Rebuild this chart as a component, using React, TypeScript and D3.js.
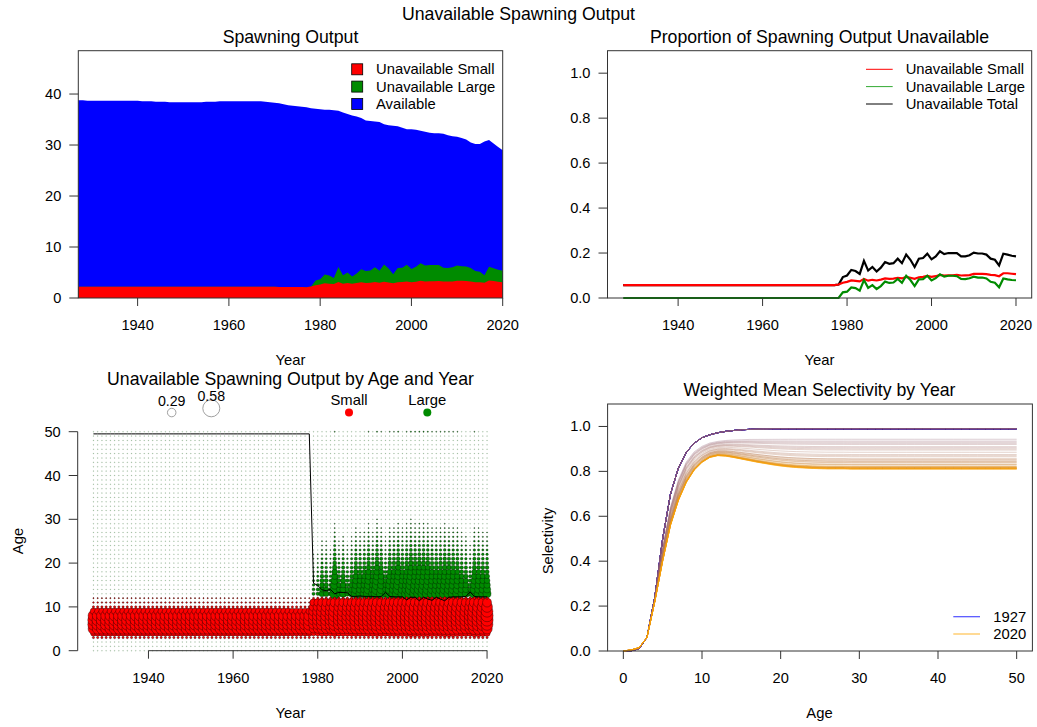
import React from "react";
import * as d3 from "d3";

const FONT = "'Liberation Sans', Arial, Helvetica, sans-serif";

// ---------- data ----------
const years = d3.range(1927, 2021);
const ages = d3.range(0, 51);

// Total spawning output by year (1927..2020)
const spawnTotal = [
  38.8, 38.8, 38.7, 38.7, 38.7, 38.7, 38.7, 38.7, 38.7, 38.7,
  38.7, 38.7, 38.7, 38.7, 38.6, 38.6, 38.6, 38.5, 38.5, 38.5,
  38.4, 38.4, 38.4, 38.4, 38.4, 38.4, 38.4, 38.4, 38.5, 38.5,
  38.5, 38.6, 38.6, 38.6, 38.6, 38.6, 38.6, 38.6, 38.6, 38.6,
  38.6, 38.5, 38.4, 38.3, 38.2, 38.0, 37.8, 37.7, 37.6, 37.5,
  37.4, 37.2, 37.1, 37.0, 36.9, 36.9, 36.8, 36.7, 36.4, 36.1,
  35.8, 35.6, 35.3, 34.8, 34.7, 34.6, 34.5, 34.1, 33.9, 33.8,
  33.7, 33.4, 33.1, 33.1, 33.0, 32.8, 32.6, 32.4, 32.3, 32.3,
  32.2, 31.9, 31.7, 31.6, 31.4, 31.1, 30.5, 30.2, 30.2, 30.7,
  31.0, 30.3, 29.6, 29.0,
];

// Proportion of spawning output unavailable because fish are too small (1927..2020)
const propSmall = [
  0.057, 0.057, 0.057, 0.057, 0.057, 0.057, 0.057, 0.057, 0.057, 0.057,
  0.057, 0.057, 0.057, 0.057, 0.057, 0.057, 0.057, 0.057, 0.057, 0.057,
  0.057, 0.057, 0.057, 0.057, 0.057, 0.057, 0.057, 0.057, 0.057, 0.057,
  0.057, 0.057, 0.057, 0.057, 0.057, 0.057, 0.057, 0.057, 0.057, 0.057,
  0.057, 0.057, 0.057, 0.057, 0.057, 0.057, 0.057, 0.057, 0.057, 0.057,
  0.057,
  0.060, 0.068, 0.072, 0.078, 0.076, 0.074, 0.085, 0.077, 0.081, 0.078,
  0.082, 0.087, 0.085, 0.086, 0.090, 0.087, 0.094, 0.090, 0.085, 0.092,
  0.094, 0.098, 0.094, 0.097, 0.103, 0.100, 0.101, 0.101, 0.103, 0.100,
  0.101, 0.102, 0.107, 0.107, 0.107, 0.106, 0.103, 0.102, 0.097, 0.110,
  0.110, 0.108, 0.106,
];

// Proportion of spawning output unavailable because fish are too large (1927..2020)
const propLarge = [
  0, 0, 0, 0, 0, 0, 0, 0, 0, 0,
  0, 0, 0, 0, 0, 0, 0, 0, 0, 0,
  0, 0, 0, 0, 0, 0, 0, 0, 0, 0,
  0, 0, 0, 0, 0, 0, 0, 0, 0, 0,
  0, 0, 0, 0, 0, 0, 0, 0, 0, 0,
  0,
  0.000, 0.025, 0.028, 0.047, 0.044, 0.033, 0.080, 0.045, 0.057, 0.040,
  0.053, 0.073, 0.067, 0.069, 0.085, 0.068, 0.099, 0.080, 0.053, 0.083,
  0.084, 0.099, 0.078, 0.088, 0.105, 0.095, 0.099, 0.099, 0.097, 0.085,
  0.084, 0.088, 0.095, 0.091, 0.091, 0.087, 0.072, 0.068, 0.048, 0.087,
  0.083, 0.080, 0.079,
];

// Age separating the small and large unavailable components (1927..2020)
const boundaryAge = [
  49.5, 49.5, 49.5, 49.5, 49.5, 49.5, 49.5, 49.5, 49.5, 49.5,
  49.5, 49.5, 49.5, 49.5, 49.5, 49.5, 49.5, 49.5, 49.5, 49.5,
  49.5, 49.5, 49.5, 49.5, 49.5, 49.5, 49.5, 49.5, 49.5, 49.5,
  49.5, 49.5, 49.5, 49.5, 49.5, 49.5, 49.5, 49.5, 49.5, 49.5,
  49.5, 49.5, 49.5, 49.5, 49.5, 49.5, 49.5, 49.5, 49.5, 49.5,
  49.5,
  49.5, 15.4, 14.9, 13.9, 13.7, 14.0, 13.0, 13.3, 13.3, 13.2,
  12.4, 12.4, 12.5, 12.4, 12.4, 12.4, 12.3, 12.4, 13.3, 12.4,
  12.3, 12.3, 12.3, 11.6, 12.2, 12.2, 11.4, 12.2, 11.8, 11.5,
  12.2, 11.8, 11.4, 12.2, 12.3, 12.3, 12.3, 12.4, 13.4, 12.4,
  12.3, 12.3, 12.3,
];

// Share of unavailable-small spawning output by age (ages 0..50), before and after 1979
const redShareEarly = [
  0.002, 0.004, 0.01, 0.035, 0.09, 0.165, 0.175, 0.175, 0.165, 0.1,
  0.035, 0.025, 0.018, 0, 0, 0, 0, 0, 0, 0,
  0, 0, 0, 0, 0, 0, 0, 0, 0, 0,
  0, 0, 0, 0, 0, 0, 0, 0, 0, 0,
  0, 0, 0, 0, 0, 0, 0, 0, 0, 0,
  0,
];
const redShareLate = [
  0.002, 0.003, 0.008, 0.025, 0.07, 0.115, 0.13, 0.135, 0.135, 0.13,
  0.12, 0.1, 0.027, 0, 0, 0, 0, 0, 0, 0,
  0, 0, 0, 0, 0, 0, 0, 0, 0, 0,
  0, 0, 0, 0, 0, 0, 0, 0, 0, 0,
  0, 0, 0, 0, 0, 0, 0, 0, 0, 0,
  0,
];
// Share of unavailable-large spawning output by age (ages 0..50)
const greenShare = [
  0, 0, 0, 0, 0, 0, 0, 0, 0, 0,
  0, 0, 0.03, 0.11, 0.1, 0.09, 0.08, 0.07, 0.06, 0.052,
  0.045, 0.039, 0.034, 0.029, 0.025, 0.021, 0.018, 0.015, 0.013, 0.011,
  0.0095, 0.008, 0.007, 0.006, 0.005, 0.0045, 0.004, 0.0035, 0.003, 0.0027,
  0.0024, 0.0021, 0.0019, 0.0017, 0.0015, 0.0013, 0.0012, 0.0011, 0.001, 0.0009,
  0.012,
];

// Weighted mean selectivity at age (ages 0..50)
const selEarly = [
  0, 0.001, 0.01, 0.06, 0.24, 0.5, 0.7, 0.815, 0.885, 0.925,
  0.95, 0.963, 0.972, 0.978, 0.982, 0.985, 0.987, 0.988, 0.989, 0.99,
  0.99, 0.99, 0.99, 0.99, 0.99, 0.99, 0.99, 0.99, 0.99, 0.99,
  0.99, 0.99, 0.99, 0.99, 0.99, 0.99, 0.99, 0.99, 0.99, 0.99,
  0.99, 0.99, 0.99, 0.99, 0.99, 0.99, 0.99, 0.99, 0.99, 0.99,
  0.99,
];
const selHigh = [
  0, 0.003, 0.012, 0.06, 0.23, 0.46, 0.64, 0.76, 0.84, 0.885,
  0.91, 0.925, 0.932, 0.936, 0.938, 0.939, 0.94, 0.94, 0.94, 0.94,
  0.94, 0.94, 0.94, 0.94, 0.94, 0.94, 0.94, 0.94, 0.94, 0.94,
  0.94, 0.94, 0.94, 0.94, 0.94, 0.94, 0.94, 0.94, 0.94, 0.94,
  0.94, 0.94, 0.94, 0.94, 0.94, 0.94, 0.94, 0.94, 0.94, 0.94,
  0.94,
];
const selLow = [
  0, 0.005, 0.015, 0.06, 0.22, 0.4, 0.56, 0.67, 0.75, 0.805,
  0.84, 0.862, 0.87, 0.868, 0.862, 0.855, 0.848, 0.841, 0.835, 0.829,
  0.824, 0.82, 0.817, 0.815, 0.813, 0.812, 0.811, 0.811, 0.811, 0.81,
  0.81, 0.81, 0.81, 0.81, 0.81, 0.81, 0.81, 0.81, 0.81, 0.81,
  0.81, 0.81, 0.81, 0.81, 0.81, 0.81, 0.81, 0.81, 0.81, 0.81,
  0.81,
];
// Selectivity plateau for each year 1979..2020
const selPlateauYears = d3.range(1979, 2021);
const selPlateau = [
  0.943, 0.935, 0.925, 0.93, 0.92, 0.905, 0.91, 0.9, 0.895, 0.885,
  0.875, 0.87, 0.865, 0.855, 0.855, 0.845, 0.845, 0.85, 0.84, 0.838,
  0.832, 0.83, 0.828, 0.82, 0.822, 0.818, 0.818, 0.815, 0.815, 0.816,
  0.815, 0.812, 0.812, 0.812, 0.813, 0.814, 0.816, 0.822, 0.812, 0.81,
  0.81, 0.81,
];

const bubbleLegendValues = [0.29, 0.58];
const yearTicks = [1940, 1960, 1980, 2000, 2020];

// ---------- styling ----------
const RED = "#FF0000";
const GREEN = "#008B00";
const BLUE = "#0000FF";
const AXIS = "#333";
const TICK_FS = 14.6;
const LAB_FS = 14.8;
const TITLE_FS = 17.7;
const BUBBLE_K = 14.66; // px of radius per unit of spawning output
const MIN_R = 0.5;

const txt = (x: number, y: number, s: string, opts: any = {}) => (
  <text
    key={opts.key ?? `${s}-${x}-${y}`}
    x={x}
    y={y}
    fontFamily={FONT}
    fontSize={opts.size ?? LAB_FS}
    textAnchor={opts.anchor ?? "middle"}
    dominantBaseline="central"
    transform={opts.rotate ? `rotate(-90 ${x} ${y})` : undefined}
    fill="#000"
  >
    {s}
  </text>
);

function xTicks(scale: any, ticks: number[], y: number, fmt = (d: number) => String(d)) {
  return ticks.map((t) => (
    <g key={`xt${t}-${y}`}>
      <line x1={scale(t)} x2={scale(t)} y1={y} y2={y + 8} stroke={AXIS} strokeWidth={1} />
      {txt(scale(t), y + 27, fmt(t), { size: TICK_FS })}
    </g>
  ));
}

function yTicks(scale: any, ticks: number[], x: number, fmt = (d: number) => String(d)) {
  return ticks.map((t) => (
    <g key={`yt${t}-${x}`}>
      <line x1={x - 9} x2={x} y1={scale(t)} y2={scale(t)} stroke={AXIS} strokeWidth={1} />
      {txt(x - 17, scale(t), fmt(t), { size: TICK_FS, anchor: "end" })}
    </g>
  ));
}

const box = (x0: number, x1: number, y0: number, y1: number) => (
  <rect x={x0} y={y0} width={x1 - x0} height={y1 - y0} fill="none" stroke={AXIS} strokeWidth={1} />
);

export default function App() {
  // ---- top-left: stacked spawning output ----
  const tlX = d3.scaleLinear().domain([1927, 2020]).range([78.3, 502.7]);
  const tlY = d3.scaleLinear().domain([0, 48.5]).range([298, 50.7]);
  const small = years.map((_, i) => propSmall[i] * spawnTotal[i]);
  const large = years.map((_, i) => propLarge[i] * spawnTotal[i]);
  const unavailTop = years.map((_, i) => small[i] + large[i]);
  const area = (vals: number[]) =>
    d3
      .area<number>()
      .x((_, i) => tlX(years[i]))
      .y0(tlY(0))
      .y1((d) => tlY(d))(vals) as string;

  // ---- top-right: proportions ----
  const trX = d3.scaleLinear().domain([1923.28, 2023.72]).range([607.5, 1031.7]);
  const trY = d3.scaleLinear().domain([0, 1.1]).range([298, 50.7]);
  const propTotal = years.map((_, i) => propSmall[i] + propLarge[i]);
  const pline = (vals: number[]) =>
    d3
      .line<number>()
      .x((_, i) => trX(years[i]))
      .y((d) => trY(d))(vals) as string;

  // ---- bottom-left: bubbles by age and year ----
  const blX = d3.scaleLinear().domain([1923.28, 2023.72]).range([77.7, 502.8]);
  const blY = d3.scaleLinear().domain([0, 50]).range([650.7, 431.7]);
  const redEarlySum = d3.sum(redShareEarly);
  const redLateSum = d3.sum(redShareLate);
  const greenSum = d3.sum(greenShare);

  const greenCircles: any[] = [];
  const redCircles: any[] = [];
  years.forEach((yr, i) => {
    ages.forEach((a) => {
      const gv = (large[i] * greenShare[a]) / greenSum;
      const r = gv * BUBBLE_K;
      const tiny = r < MIN_R;
      greenCircles.push(
        <circle
          key={`g${yr}-${a}`}
          cx={blX(yr)}
          cy={blY(a)}
          r={tiny ? MIN_R : r}
          fill={GREEN}
          fillOpacity={tiny ? 0.35 : 1}
          stroke="#000"
          strokeWidth={tiny ? 0.3 : 0.45}
          strokeOpacity={tiny ? 0.3 : 0.7}
        />
      );
    });
  });
  years.forEach((yr, i) => {
    const share = yr <= 1978 ? redShareEarly : redShareLate;
    const sum = yr <= 1978 ? redEarlySum : redLateSum;
    ages.forEach((a) => {
      const rv = (small[i] * share[a]) / sum;
      const r = rv * BUBBLE_K;
      if (r >= MIN_R) {
        redCircles.push(
          <circle
            key={`r${yr}-${a}`}
            cx={blX(yr)}
            cy={blY(a)}
            r={r}
            fill={RED}
            stroke="#000"
            strokeWidth={0.5}
            strokeOpacity={0.75}
          />
        );
      }
    });
  });
  const boundaryPath = d3
    .line<number>()
    .x((_, i) => blX(years[i]))
    .y((d) => blY(d))(boundaryAge) as string;

  // ---- bottom-right: selectivity ----
  const brX = d3.scaleLinear().domain([-2, 52]).range([607.6, 1032.4]);
  const brY = d3.scaleLinear().domain([0, 1.1]).range([651, 404]);
  const colorRamp = d3.interpolateRgb("blue", "orange");
  const selLine = d3
    .line<number>()
    .x((_, a) => brX(ages[a]))
    .y((d) => brY(d));
  const selCurves = years.map((yr) => {
    const j = selPlateauYears.indexOf(yr);
    if (j < 0) return selEarly;
    const w = (selHigh[50] - selPlateau[j]) / (selHigh[50] - selLow[50]);
    return ages.map((a) => selHigh[a] + (selLow[a] - selHigh[a]) * w);
  });

  const legendRows = [69.3, 86.6, 104];
  const bubbleLegendX = [171.7, 211.3];
  const bubbleLegendLabelY = [400.5, 396];

  return (
    <svg
      width={1037}
      height={727}
      style={{ position: "absolute", left: 0, top: 0, background: "#fff" }}
    >
      <rect x={0} y={0} width={1037} height={727} fill="#fff" />
      {txt(518.5, 14, "Unavailable Spawning Output", { size: TITLE_FS })}

      {/* ---------- top-left ---------- */}
      {txt(290.5, 37, "Spawning Output", { size: TITLE_FS })}
      <path d={area(spawnTotal)} fill={BLUE} />
      <path d={area(unavailTop)} fill={GREEN} />
      <path d={area(small)} fill={RED} />
      {box(78.3, 502.7, 50.7, 298)}
      {xTicks(tlX, yearTicks, 298)}
      {yTicks(tlY, [0, 10, 20, 30, 40], 78.3)}
      {txt(290.5, 360, "Year")}
      {[
        { c: RED, l: "Unavailable Small" },
        { c: GREEN, l: "Unavailable Large" },
        { c: BLUE, l: "Available" },
      ].map((d, i) => (
        <g key={d.l}>
          <rect x={351.7} y={legendRows[i] - 5.5} width={11} height={11} fill={d.c} stroke="#000" strokeWidth={0.8} />
          {txt(376, legendRows[i], d.l, { anchor: "start" })}
        </g>
      ))}

      {/* ---------- top-right ---------- */}
      {txt(819.5, 37, "Proportion of Spawning Output Unavailable", { size: TITLE_FS })}
      <path d={pline(propTotal)} fill="none" stroke="#000" strokeWidth={2.2} />
      <path d={pline(propSmall)} fill="none" stroke={RED} strokeWidth={2.2} />
      <path d={pline(propLarge)} fill="none" stroke={GREEN} strokeWidth={2.2} />
      {box(607.5, 1031.7, 50.7, 298)}
      {xTicks(trX, yearTicks, 298)}
      {yTicks(trY, [0, 0.2, 0.4, 0.6, 0.8, 1.0], 607.5, (d) => d.toFixed(1))}
      {txt(819.5, 360, "Year")}
      {[
        { c: RED, l: "Unavailable Small" },
        { c: "#33AA33", l: "Unavailable Large" },
        { c: "#000", l: "Unavailable Total" },
      ].map((d, i) => (
        <g key={d.l + "p"}>
          <line x1={866} x2={892.7} y1={legendRows[i]} y2={legendRows[i]} stroke={d.c} strokeWidth={1} />
          {txt(905.7, legendRows[i], d.l, { anchor: "start" })}
        </g>
      ))}

      {/* ---------- bottom-left ---------- */}
      {txt(290.5, 378.5, "Unavailable Spawning Output by Age and Year", { size: TITLE_FS })}
      <g>{greenCircles}</g>
      <g>{redCircles}</g>
      <path d={boundaryPath} fill="none" stroke="#000" strokeWidth={1} />
      <line x1={77.7} x2={77.7} y1={blY(0)} y2={blY(50)} stroke={AXIS} strokeWidth={1} />
      <line x1={blX(1940)} x2={blX(2020)} y1={650.7} y2={650.7} stroke={AXIS} strokeWidth={1} />
      {xTicks(blX, yearTicks, 650.7)}
      {yTicks(blY, [0, 10, 20, 30, 40, 50], 77.7)}
      {txt(290.5, 713, "Year")}
      {txt(18, 541, "Age", { rotate: true })}
      {bubbleLegendValues.map((v, i) => {
        const cx = bubbleLegendX[i];
        const r = v * BUBBLE_K;
        const cy = 416.8 - r;
        return (
          <g key={`bl${v}`}>
            <circle cx={cx} cy={cy} r={r} fill="none" stroke="#888" strokeWidth={0.8} />
            {txt(cx, bubbleLegendLabelY[i], v.toFixed(2), { size: 14.2 })}
          </g>
        );
      })}
      <circle cx={349} cy={412.5} r={4} fill={RED} />
      {txt(349, 399.5, "Small")}
      <circle cx={427.3} cy={412.5} r={4} fill={GREEN} />
      {txt(427.3, 399.5, "Large")}

      {/* ---------- bottom-right ---------- */}
      {txt(819.5, 390, "Weighted Mean Selectivity by Year", { size: TITLE_FS })}
      {selCurves.map((c, i) => (
        <path
          key={`sel${years[i]}`}
          d={selLine(c) as string}
          fill="none"
          stroke={colorRamp(i / (years.length - 1))}
          strokeOpacity={0.3}
          strokeWidth={1}
        />
      ))}
      {box(607.6, 1032.4, 404, 651)}
      {xTicks(brX, [0, 10, 20, 30, 40, 50], 651)}
      {yTicks(brY, [0, 0.2, 0.4, 0.6, 0.8, 1.0], 607.6, (d) => d.toFixed(1))}
      {txt(819.5, 713, "Age")}
      {txt(548, 541, "Selectivity", { rotate: true })}
      {[
        { c: colorRamp(0), l: String(years[0]) },
        { c: colorRamp(1), l: String(years[years.length - 1]) },
      ].map((d, i) => (
        <g key={`sl${d.l}`}>
          <line x1={953.3} x2={980} y1={[616.7, 634][i]} y2={[616.7, 634][i]} stroke={d.c} strokeOpacity={0.7} strokeWidth={1.2} />
          {txt(993.3, [616.7, 634][i], d.l, { anchor: "start" })}
        </g>
      ))}
    </svg>
  );
}
